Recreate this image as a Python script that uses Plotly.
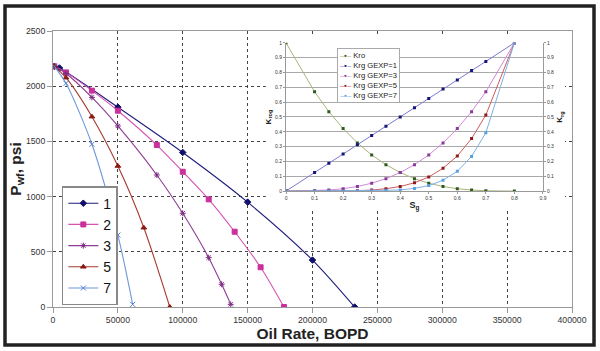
import plotly.graph_objects as go

# ---------------- Main chart data (Pwf vs oil rate) ----------------
series_names = ["1", "2", "3", "5", "7"]
rate_1 = [1000, 5000, 50000, 100000, 150000, 200000, 232500]
pwf_1 = [2180, 2165, 1810, 1400, 950, 425, 0]
rate_2 = [1000, 10000, 30000, 50000, 80000, 100000, 120000, 140000, 160000, 178000]
pwf_2 = [2180, 2125, 1960, 1778, 1467, 1225, 975, 682, 360, 0]
rate_3 = [1000, 10000, 30000, 50000, 80000, 100000, 120000, 130000, 137000]
pwf_3 = [2180, 2115, 1899, 1640, 1196, 849, 447, 206, 24]
rate_5 = [1000, 10000, 30000, 50000, 70000, 90000]
pwf_5 = [2180, 2077, 1724, 1277, 718, 0]
rate_7 = [1000, 10000, 30000, 50000, 61400]
pwf_7 = [2180, 2026, 1474, 652, 24]

# ---------------- Inset data (relative permeability vs Sg) ----------------
sg = [0, 0.1, 0.15, 0.2, 0.25, 0.3, 0.35, 0.4, 0.45, 0.5, 0.55, 0.6, 0.65, 0.7, 0.8]
kro = [1.0, 0.67, 0.536, 0.422, 0.325, 0.244, 0.178, 0.125, 0.084, 0.053, 0.031, 0.016, 0.007, 0.002, 0.0]
krg_1 = [0, 0.125, 0.188, 0.25, 0.313, 0.375, 0.438, 0.5, 0.563, 0.625, 0.688, 0.75, 0.813, 0.875, 1.0]
krg_3 = [0, 0.002, 0.007, 0.016, 0.031, 0.053, 0.084, 0.125, 0.178, 0.244, 0.325, 0.422, 0.536, 0.67, 1.0]
krg_5 = [0, 0.0, 0.0, 0.001, 0.003, 0.007, 0.016, 0.031, 0.056, 0.095, 0.154, 0.237, 0.354, 0.513, 1.0]
krg_7 = [0, 0, 0, 0, 0, 0.002, 0.005, 0.008, 0.018, 0.037, 0.073, 0.133, 0.234, 0.393, 1.0]
inset_names = ["Kro", "Krg GEXP=1", "Krg GEXP=3", "Krg GEXP=5", "Krg GEXP=7"]

FONT = "Liberation Sans, Arial, sans-serif"

fig = go.Figure()

main_styles = [
    (rate_1, pwf_1, "#1c1c7c", "#10106a", "diamond", 5),
    (rate_2, pwf_2, "#d653b0", "#c9309c", "square", 5),
    (rate_3, pwf_3, "#8e3b92", "#7d2a82", "asterisk-open", 5),
    (rate_5, pwf_5, "#a53a2e", "#8a1a14", "triangle-up", 5),
    (rate_7, pwf_7, "#6c98dc", "#5080cc", "x-thin-open", 5),
]
for name, (xs, ys, lc, mc, sym, ms) in zip(series_names, main_styles):
    fig.add_trace(go.Scatter(
        x=xs, y=ys, name=name, mode="lines+markers",
        line=dict(color=lc, width=1.1, shape="spline", smoothing=0.8),
        marker=dict(symbol=sym, size=ms, color=mc, line=dict(color=mc, width=1)),
        xaxis="x", yaxis="y",
    ))

inset_styles = [
    (kro, "#a9b47c", "#2f5a1e", "y2"),
    (krg_1, "#7a7ad0", "#15157a", "y3"),
    (krg_3, "#d08ad6", "#8a3a9a", "y3"),
    (krg_5, "#d05a5a", "#8c1a1a", "y3"),
    (krg_7, "#7fb0e6", "#5aa0e0", "y3"),
]
for name, (ys, lc, mc, ya) in zip(inset_names, inset_styles):
    fig.add_trace(go.Scatter(
        x=sg, y=ys, name=name, mode="lines+markers",
        line=dict(color=lc, width=1),
        marker=dict(symbol="square", size=3, color=mc),
        xaxis="x2", yaxis=ya, showlegend=False,
    ))

# inset legend as a text box
leg_lines = []
for name, (ys, lc, mc, ya) in zip(inset_names, inset_styles):
    leg_lines.append(
        f"<span style='color:{lc}'>–</span><span style='color:{mc}'>▪</span>"
        f"<span style='color:{lc}'>–</span> <span style='color:#222'>{name}</span>"
    )

tick_small = dict(size=5, color="#333", family=FONT)

fig.update_layout(
    width=600, height=351,
    margin=dict(l=53, r=28, t=31, b=44),
    paper_bgcolor="white", plot_bgcolor="white",
    font=dict(family=FONT, color="#222"),
    xaxis=dict(
        domain=[0, 1], range=[0, 400000], dtick=50000, tickformat="d",
        showgrid=True, gridcolor="#444", griddash="dot", gridwidth=1,
        showline=True, linecolor="#999", mirror=True, zeroline=False,
        ticks="outside", ticklen=5, tickcolor="#999",
        tickfont=dict(size=8.7, color="#333"),
        title=dict(text="Oil Rate, BOPD", font=dict(size=15.5, weight="bold", color="#222"), standoff=1),
        automargin=False,
    ),
    yaxis=dict(
        domain=[0, 1], range=[0, 2500], dtick=500,
        showgrid=True, gridcolor="#444", griddash="dot", gridwidth=1,
        showline=True, linecolor="#999", mirror=True, zeroline=False,
        ticks="outside", ticklen=5, tickcolor="#999",
        tickfont=dict(size=8.7, color="#333"),
        title=dict(text="P<sub>wf</sub>, psi", font=dict(size=15.5, weight="bold", color="#222"), standoff=0),
        automargin=False,
    ),
    xaxis2=dict(
        domain=[0.449, 0.944], anchor="y2", range=[0, 0.9], dtick=0.1,
        showgrid=False, showline=True, linecolor="#999", zeroline=False,
        ticks="outside", ticklen=2, tickcolor="#999", tickfont=tick_small,
        title=dict(text="S<sub>g</sub>", font=dict(size=9, weight="bold", color="#222"), standoff=1),
    ),
    yaxis2=dict(
        domain=[0.420, 0.957], anchor="x2", range=[0, 1], dtick=0.1,
        showgrid=True, gridcolor="#aaa", gridwidth=1,
        showline=True, linecolor="#999", zeroline=False,
        ticks="outside", ticklen=2, tickcolor="#999", tickfont=tick_small,
        title=dict(text="K<sub>rog</sub>", font=dict(size=8, weight="bold", color="#222"), standoff=2),
    ),
    yaxis3=dict(
        overlaying="y2", side="right", anchor="x2", range=[0, 1], dtick=0.1,
        showgrid=False, showline=True, linecolor="#999", zeroline=False,
        ticks="outside", ticklen=2, tickcolor="#999", tickfont=tick_small,
        title=dict(text="K<sub>rg</sub>", font=dict(size=8, weight="bold", color="#222"), standoff=3),
    ),
    legend=dict(
        x=0.017, y=0.438, xanchor="left", yanchor="top",
        bgcolor="white", bordercolor="#888", borderwidth=1.5,
        font=dict(size=14, color="#111"), itemwidth=30, tracegroupgap=0,
    ),
    showlegend=True,
    annotations=[dict(
        xref="paper", yref="paper", x=0.547, y=0.938, xanchor="left", yanchor="top",
        text="<br>".join(leg_lines), align="left", showarrow=False,
        font=dict(size=7.6, family=FONT), bgcolor="white",
        bordercolor="#aaa", borderwidth=1, borderpad=2,
    )],
    shapes=[
        # white panel behind the inset chart, above the main grid
        dict(type="rect", xref="x", yref="y",
             x0=164000, x1=394600, y0=880, y1=2455,
             fillcolor="white", line=dict(width=0), layer="between"),
        # outer frame
        dict(type="rect", xref="paper", yref="paper",
             x0=-0.0925, x1=1.0424, y0=-0.1377, y1=1.0906,
             line=dict(color="#222", width=3.5), fillcolor="rgba(0,0,0,0)"),
    ],
)

fig.write_html("out.html")
